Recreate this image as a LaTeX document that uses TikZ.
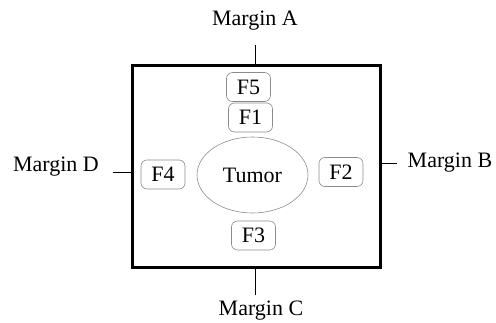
\documentclass[tikz,border=0pt]{standalone}
\usepackage{fontspec}
\setmainfont{Liberation Serif}
\usetikzlibrary{shapes.geometric}
\begin{document}
\begin{tikzpicture}[x=1pt,y=-1pt,
  fbox/.style={draw=black!45,line width=0.6pt,rounded corners=6pt,inner sep=0pt,minimum width=44pt,minimum height=29pt,font=\fontsize{22}{24}\selectfont},
  lab/.style={inner sep=0pt,font=\fontsize{22}{24}\selectfont},
  tick/.style={line width=0.9pt}]
\useasboundingbox (0,0) rectangle (496,322);
\node[draw,line width=3pt,minimum width=248pt,minimum height=202pt,inner sep=0pt] (frame) at (256,166) {};
\node[fbox] (f5) at (248.5,87) {F5};
\node[fbox] (f1) at (250.5,117.5) {F1};
\node[fbox] (f4) at (163,174.5) {F4};
\node[fbox] (f2) at (341,172) {F2};
\node[fbox] (f3) at (253.5,235.5) {F3};
\node[ellipse,draw=black!45,line width=0.6pt,minimum width=111pt,minimum height=76pt,inner sep=0pt,font=\fontsize{22}{24}\selectfont] (tumor) at (252.5,175) {Tumor};
\node[lab] (ma) at (255,21) {Margin A};
\node[lab] (mc) at (261,311) {Margin C};
\node[lab] (md) at (56,167) {Margin D};
\node[lab] (mb) at (450,163) {Margin B};
\coordinate (ta) at (255,45);
\coordinate (tc) at (255,295);
\coordinate (td) at (113,172);
\coordinate (tb) at (397,163);
\draw[tick] (ta) -- (ta |- frame.north);
\draw[tick] (tc) -- (tc |- frame.south);
\draw[tick] (td) -- (td -| frame.west);
\draw[tick] (tb) -- (tb -| frame.east);
\end{tikzpicture}
\end{document}
